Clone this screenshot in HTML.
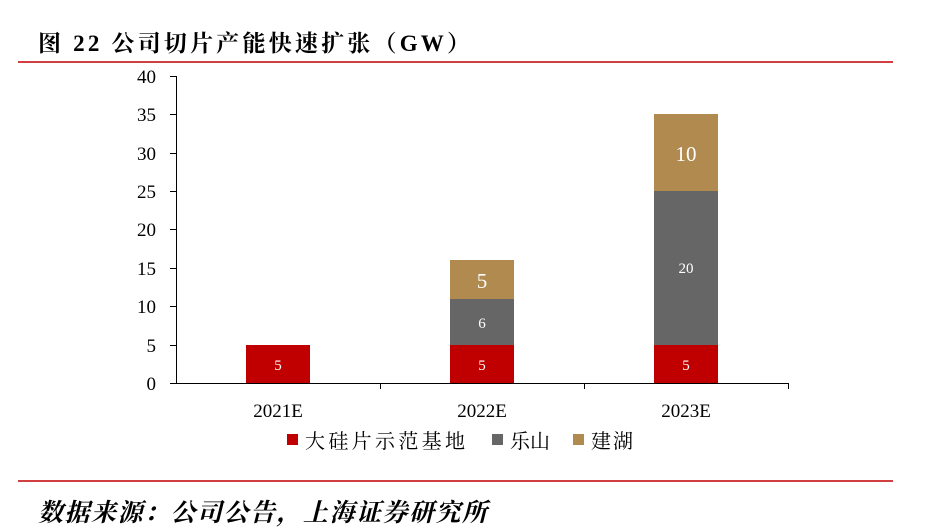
<!DOCTYPE html>
<html><head><meta charset="utf-8"><style>
body{margin:0;background:#fff;}
</style></head><body>
<svg width="925" height="527" xmlns="http://www.w3.org/2000/svg" style="display:block">
<rect width="925" height="527" fill="#fff"/>
<text x="38" y="51" textLength="432" lengthAdjust="spacing" font-family="Liberation Serif, Noto Serif CJK SC, serif" font-weight="bold" font-size="23" fill="#000">图 22 公司切片产能快速扩张（GW）</text>
<line x1="18" y1="62" x2="893" y2="62" stroke="#C00000" stroke-width="1.5"/>
<g font-family="Liberation Serif, serif" font-size="19" fill="#000" text-anchor="end">
<text x="156" y="83">40</text><text x="156" y="121">35</text><text x="156" y="160">30</text>
<text x="156" y="198">25</text><text x="156" y="236">20</text><text x="156" y="275">15</text>
<text x="156" y="313">10</text><text x="156" y="352">5</text><text x="156" y="390">0</text>
</g>
<g stroke="#000" stroke-width="1">
<line x1="176.5" y1="76" x2="176.5" y2="383"/>
<line x1="176" y1="383.5" x2="789" y2="383.5"/>
<line x1="170" y1="76.5" x2="176" y2="76.5"/><line x1="170" y1="114.5" x2="176" y2="114.5"/>
<line x1="170" y1="153.5" x2="176" y2="153.5"/><line x1="170" y1="191.5" x2="176" y2="191.5"/>
<line x1="170" y1="229.5" x2="176" y2="229.5"/><line x1="170" y1="268.5" x2="176" y2="268.5"/>
<line x1="170" y1="306.5" x2="176" y2="306.5"/><line x1="170" y1="345.5" x2="176" y2="345.5"/>
<line x1="170" y1="383.5" x2="176" y2="383.5"/>
<line x1="380.5" y1="383" x2="380.5" y2="389"/><line x1="584.5" y1="383" x2="584.5" y2="389"/>
<line x1="788.5" y1="383" x2="788.5" y2="389"/>
</g>
<rect x="246" y="345" width="64" height="38" fill="#C00000"/>
<rect x="450" y="345" width="64" height="38" fill="#C00000"/>
<rect x="450" y="299" width="64" height="46" fill="#666666"/>
<rect x="450" y="260" width="64" height="39" fill="#B08A4E"/>
<rect x="654" y="345" width="64" height="38" fill="#C00000"/>
<rect x="654" y="191" width="64" height="154" fill="#666666"/>
<rect x="654" y="114" width="64" height="77" fill="#B08A4E"/>
<g font-family="Liberation Serif, serif" fill="#fff" text-anchor="middle">
<text x="278" y="370" font-size="15">5</text>
<text x="482" y="370" font-size="15">5</text>
<text x="482" y="328" font-size="15">6</text>
<text x="482" y="288" font-size="21">5</text>
<text x="686" y="370" font-size="15">5</text>
<text x="686" y="273" font-size="15">20</text>
<text x="686" y="161" font-size="21">10</text>
</g>
<g font-family="Liberation Serif, serif" font-size="19" fill="#000" text-anchor="middle">
<text x="278" y="417">2021E</text><text x="482" y="417">2022E</text><text x="686" y="417">2023E</text>
</g>
<g font-family="Liberation Serif, Noto Serif CJK SC, serif" font-size="20" fill="#000">
<rect x="287" y="434" width="11" height="11" fill="#C00000"/><text x="305" y="448" textLength="160" lengthAdjust="spacing">大硅片示范基地</text>
<rect x="492" y="434" width="11" height="11" fill="#666666"/><text x="510" y="448" textLength="40" lengthAdjust="spacing">乐山</text>
<rect x="573" y="434" width="11" height="11" fill="#B08A4E"/><text x="591" y="448" textLength="42" lengthAdjust="spacing">建湖</text>
</g>
<line x1="18" y1="481" x2="893" y2="481" stroke="#C00000" stroke-width="1.5"/>
<text x="38" y="521" textLength="449" lengthAdjust="spacing" font-family="Liberation Serif, Noto Serif CJK SC, serif" font-weight="bold" font-style="italic" font-size="25" fill="#000">数据来源：公司公告，上海证券研究所</text>
</svg>
</body></html>
